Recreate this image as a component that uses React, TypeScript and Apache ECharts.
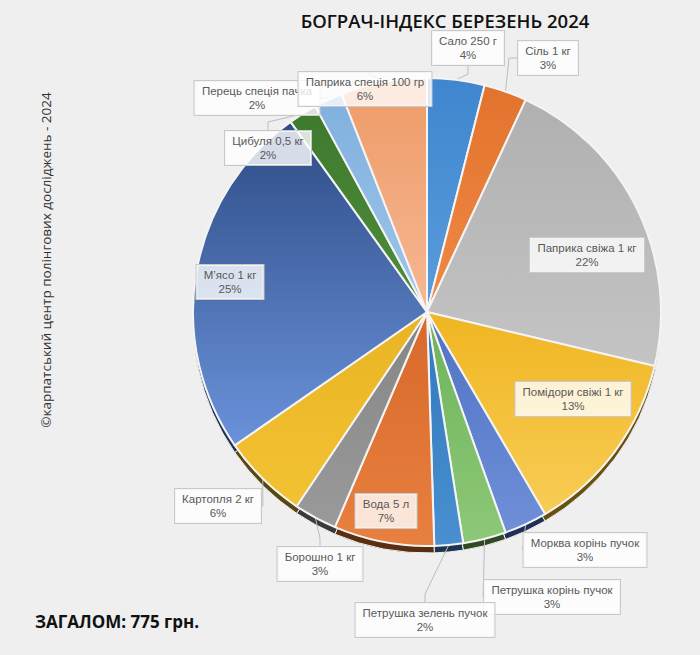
import React, { useEffect, useRef } from "react";
import * as echarts from "echarts";

const titleText = "БОГРАЧ-ІНДЕКС БЕРЕЗЕНЬ 2024";
const totalText = "ЗАГАЛОМ: 775 грн.";
const copyrightText = "©карпатський центр полінгових досліджень - 2024";

const categories = [
  "Сало 250 г",
  "Сіль 1 кг",
  "Паприка свіжа 1 кг",
  "Помідори свіжі 1 кг",
  "Морква корінь пучок",
  "Петрушка корінь пучок",
  "Петрушка зелень пучок",
  "Вода 5 л",
  "Борошно 1 кг",
  "Картопля 2 кг",
  "М’ясо 1 кг",
  "Цибуля 0,5 кг",
  "Перець спеція пачка",
  "Паприка спеція 100 гр",
];
const shares = [4, 3, 22, 13, 3, 3, 2, 7, 3, 6, 25, 2, 2, 6];

const colorsTop = [
  "#3f86cf", "#e2732e", "#b0b0b0", "#f0b622", "#4f72c4", "#6fb35a", "#2f78bd",
  "#d8692a", "#858585", "#e8b424", "#2e4c86", "#3d7a2e", "#7fb0de", "#ee9a66",
];
const colorsBottom = [
  "#5a9ddc", "#ef8a45", "#c4c4c4", "#f8cc55", "#6f8fd8", "#8cc878", "#4a90d0",
  "#e88040", "#9a9a9a", "#f3c232", "#6a92da", "#4f8c3a", "#a0c6ea", "#f6b894",
];
const colorsEdge = [
  "#1f3f66", "#6a3414", "#555555", "#6a5010", "#1f2f55", "#2f4a22", "#1c3550",
  "#5a2e10", "#3a3a3a", "#5a4610", "#1f3055", "#243d1a", "#3a5570", "#6a4530",
];

// label box centres (layout only)
const labelPos: [number, number][] = [
  [468, 48], [548, 58], [587, 255], [573, 399], [585, 550], [552, 597], [425, 620],
  [386, 511], [320, 564], [218, 506], [230, 282], [268, 148], [257, 98], [365, 89],
];

const LABEL_SIZE = 11.5;
const LABEL_FONT = `${LABEL_SIZE}px 'Liberation Sans'`;

function measure(text: string): number {
  const c = document.createElement("canvas").getContext("2d")!;
  c.font = LABEL_FONT;
  return Math.ceil(c.measureText(text).width) + 2;
}

export default function App() {
  const ref = useRef<HTMLDivElement>(null);
  useEffect(() => {
    document.body.style.margin = "0";
    const chart = echarts.init(ref.current!, null, { renderer: "svg" });
    const cx = 427;
    const cy = 312;
    const r = 234;
    const grad = (i: number) =>
      new echarts.graphic.LinearGradient(0, 0, 0, 1, [
        { offset: 0, color: colorsTop[i] },
        { offset: 1, color: colorsBottom[i] },
      ]);
    chart.setOption({
      animation: false,
      backgroundColor: "#efefef",
      title: {
        text: titleText,
        left: 440,
        top: 6,
        textAlign: "center",
        textStyle: {
          fontFamily: "Open Sans",
          fontSize: 18.5,
          fontWeight: 600,
          color: "#111",
        },
      },
      graphic: [
        {
          type: "text",
          x: 35,
          y: 621,
          style: {
            text: totalText,
            fontFamily: "Open Sans",
            fontSize: 17,
            fontWeight: "bold",
            fill: "#111",
            textVerticalAlign: "middle",
          },
        },
        {
          type: "text",
          x: 46,
          y: 260,
          rotation: Math.PI / 2,
          style: {
            text: copyrightText,
            fontFamily: "Open Sans",
            fontSize: 13.5,
            fill: "#333",
            textAlign: "center",
            textVerticalAlign: "middle",
          },
        },
      ],
      series: [
        {
          type: "pie",
          silent: true,
          center: [cx, cy + 7],
          radius: r,
          startAngle: 90,
          clockwise: true,
          label: { show: false },
          labelLine: { show: false },
          z: 1,
          itemStyle: { borderColor: "#efefef", borderWidth: 1 },
          data: categories.map((n, i) => ({
            name: n,
            value: shares[i],
            itemStyle: { color: colorsEdge[i] },
          })),
        },
        {
          type: "pie",
          center: [cx, cy],
          radius: r,
          startAngle: 90,
          clockwise: true,
          z: 2,
          itemStyle: { borderColor: "#f4f4f4", borderWidth: 2 },
          label: {
            show: true,
            position: "outside",
            formatter: (p: any) => `${p.name}\n${p.value}%`,
            color: "#595959",
            fontFamily: "Liberation Sans",
            fontSize: LABEL_SIZE,
            lineHeight: 14,
            align: "center",
            backgroundColor: "rgba(255,255,255,0.8)",
            borderColor: "#c9c9c9",
            borderWidth: 1,
            padding: [3, 6, 3, 6],
          },
          labelLine: {
            show: true,
            length: 8,
            length2: 8,
            lineStyle: { color: "#bdbdbd", width: 1 },
          },
          labelLayout: (p: any) => {
            const pos = labelPos[p.dataIndex];
            return {
              x: pos[0],
              y: pos[1],
              align: "center",
              verticalAlign: "middle",
            };
          },
          data: categories.map((n, i) => ({
            name: n,
            value: shares[i],
            itemStyle: { color: grad(i) },
            label: { width: measure(n), align: "center" },
          })),
        },
      ],
    });
    return () => chart.dispose();
  }, []);
  return <div ref={ref} style={{ width: 700, height: 655 }} />;
}
